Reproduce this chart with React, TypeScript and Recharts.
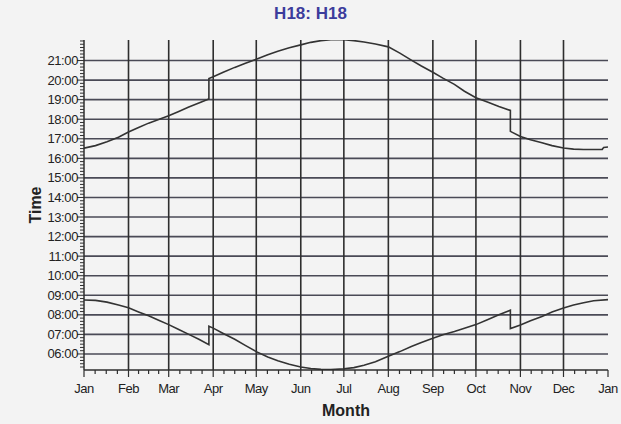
import React from 'react';
import { LineChart, Line, XAxis, YAxis, ReferenceLine, Label } from 'recharts';

// month axis (day of year)
const monthLabels = ['Jan', 'Feb', 'Mar', 'Apr', 'May', 'Jun', 'Jul', 'Aug', 'Sep', 'Oct', 'Nov', 'Dec', 'Jan'];
const monthStartDays = [0, 31, 59, 90, 120, 151, 181, 212, 243, 273, 304, 334, 365];

// time axis (hours)
const hourLabels = ['06:00', '07:00', '08:00', '09:00', '10:00', '11:00', '12:00', '13:00', '14:00', '15:00', '16:00', '17:00', '18:00', '19:00', '20:00', '21:00'];
const hourValues = [6, 7, 8, 9, 10, 11, 12, 13, 14, 15, 16, 17, 18, 19, 20, 21];
const timeDomain: [number, number] = [5.18, 22.05];

// sunset
const sunsetDays = [0, 8, 16, 24, 31, 38, 45, 52, 59, 66, 73, 80, 87, 87, 90, 97, 105, 112, 120, 128, 135, 143, 151, 158, 165, 172, 181, 188, 195, 203, 212, 220, 228, 235, 243, 250, 258, 265, 273, 281, 289, 297, 297, 304, 311, 319, 326, 334, 341, 348, 355, 361, 362, 365];
const sunsetTimes = [16.52, 16.65, 16.85, 17.08, 17.35, 17.58, 17.8, 17.98, 18.18, 18.4, 18.62, 18.83, 19.04, 20.08, 20.17, 20.4, 20.65, 20.85, 21.07, 21.3, 21.48, 21.65, 21.8, 21.93, 22.02, 22.07, 22.07, 22.02, 21.95, 21.85, 21.7, 21.38, 21.02, 20.72, 20.4, 20.1, 19.78, 19.43, 19.1, 18.88, 18.65, 18.45, 17.38, 17.12, 16.95, 16.8, 16.65, 16.53, 16.47, 16.45, 16.45, 16.46, 16.56, 16.58];

// sunrise
const sunriseDays = [0, 8, 16, 24, 31, 38, 45, 52, 59, 66, 73, 80, 87, 87, 90, 97, 105, 112, 120, 128, 135, 143, 151, 158, 165, 172, 181, 188, 195, 203, 212, 220, 228, 235, 243, 250, 258, 265, 273, 281, 289, 297, 297, 304, 311, 319, 326, 334, 341, 348, 355, 365];
const sunriseTimes = [8.76, 8.74, 8.65, 8.5, 8.36, 8.15, 7.95, 7.72, 7.5, 7.25, 7.0, 6.75, 6.47, 7.42, 7.32, 7.05, 6.75, 6.45, 6.12, 5.85, 5.65, 5.47, 5.33, 5.26, 5.21, 5.2, 5.24, 5.3, 5.42, 5.6, 5.88, 6.12, 6.38, 6.58, 6.8, 6.98, 7.15, 7.32, 7.5, 7.75, 8.0, 8.24, 7.3, 7.48, 7.7, 7.92, 8.15, 8.35, 8.5, 8.62, 8.72, 8.78];

const sunset = sunsetDays.map((d, i) => ({ day: d, t: sunsetTimes[i] }));
const sunrise = sunriseDays.map((d, i) => ({ day: d, t: sunriseTimes[i] }));

// minor ticks: quarter months on x, 10 minutes on y
const xTicks: number[] = [];
monthStartDays.forEach((d, i) => {
  xTicks.push(d);
  const next = monthStartDays[i + 1];
  if (next !== undefined) {
    [0.25, 0.5, 0.75].forEach((f) => xTicks.push(d + (next - d) * f));
  }
});
const yTicks: number[] = [];
[5, ...hourValues, 22].forEach((h) => {
  [0, 10, 20, 30, 40, 50].forEach((m) => {
    const v = h + m / 60;
    if (v >= timeDomain[0] && v <= timeDomain[1]) yTicks.push(v);
  });
});

const INK = '#2e2e2e';
const GRID = '#4a4a56';
const tickFont = { fontFamily: 'Arial, "Liberation Sans", sans-serif', fontSize: 13, fill: '#222' };

const XTick = (props: any) => {
  const { x, y, payload } = props;
  const idx = monthStartDays.indexOf(payload.value);
  const major = idx >= 0;
  return (
    <g>
      <line x1={x} x2={x} y1={y} y2={y + (major ? 7 : 4)} stroke={INK} strokeWidth={1.2} />
      {major && (
        <text x={x} y={y + 23} textAnchor="middle" {...tickFont} letterSpacing={-0.5}>
          {monthLabels[idx]}
        </text>
      )}
    </g>
  );
};

const YTick = (props: any) => {
  const { x, y, payload } = props;
  const idx = hourValues.findIndex((h) => Math.abs(h - payload.value) < 1e-6);
  const major = idx >= 0;
  return (
    <g>
      <line x1={x - (major ? 7 : 4)} x2={x} y1={y} y2={y} stroke={INK} strokeWidth={1} />
      {major && (
        <text x={x - 6} y={y + 4.5} textAnchor="end" {...tickFont} letterSpacing={-0.4}>
          {hourLabels[idx]}
        </text>
      )}
    </g>
  );
};

export default function App() {
  return (
    <div style={{ position: 'absolute', left: 0, top: 0, width: 621, height: 424, background: '#f3f3f3', fontFamily: 'Arial, "Liberation Sans", sans-serif' }}>
      <div style={{ position: 'absolute', left: 0, top: 4, width: 621, textAlign: 'center', color: '#3c3c9c', fontSize: 17, fontWeight: 'bold' }}>
        H18: H18
      </div>
      <LineChart width={621} height={424} data={sunset} margin={{ top: 40, right: 13, bottom: 24, left: 0 }}>
        <XAxis
          dataKey="day"
          type="number"
          domain={[0, 365]}
          ticks={xTicks}
          interval={0}
          allowDataOverflow
          height={30}
          tickSize={0}
          tickMargin={0}
          tickLine={false}
          tick={<XTick />}
          axisLine={{ stroke: INK, strokeWidth: 1.5 }}
        >
          <Label
            content={(p: any) => (
              <text x={p.viewBox.x + p.viewBox.width / 2} y={p.viewBox.y + 46} textAnchor="middle" fontSize={16} fontWeight="bold" fill="#222">
                Month
              </text>
            )}
          />
        </XAxis>
        <YAxis
          dataKey="t"
          type="number"
          domain={timeDomain}
          ticks={yTicks}
          interval={0}
          allowDataOverflow
          width={84}
          tickSize={0}
          tickMargin={0}
          tickLine={false}
          tick={<YTick />}
          axisLine={{ stroke: INK, strokeWidth: 1.5 }}
        >
          <Label
            content={(p: any) => {
              const cy = p.viewBox.y + p.viewBox.height / 2;
              return (
                <text x={41} y={cy} transform={`rotate(-90, 41, ${cy})`} textAnchor="middle" fontSize={16} fontWeight="bold" fill="#222">
                  Time
                </text>
              );
            }}
          />
        </YAxis>
        {hourValues.map((h) => (
          <ReferenceLine key={'h' + h} y={h} stroke={GRID} strokeWidth={1.6} />
        ))}
        {monthStartDays.slice(1, -1).map((d) => (
          <ReferenceLine key={'m' + d} x={d} stroke={INK} strokeWidth={1.6} />
        ))}
        <Line data={sunset} dataKey="t" type="linear" stroke="#333" strokeWidth={1.6} dot={false} isAnimationActive={false} />
        <Line data={sunrise} dataKey="t" type="linear" stroke="#333" strokeWidth={1.6} dot={false} isAnimationActive={false} />
      </LineChart>
    </div>
  );
}
